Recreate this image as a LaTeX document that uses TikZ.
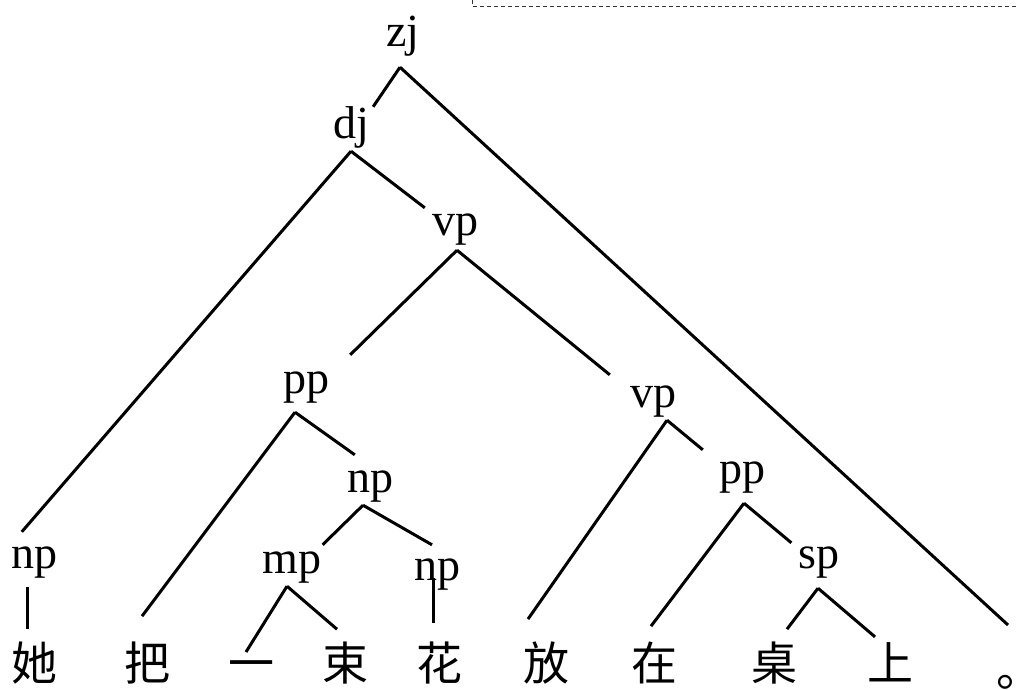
\documentclass[tikz,border=0pt]{standalone}
\usepackage{fontspec}
\setmainfont{Liberation Serif}
\newfontfamily\cjk{Noto Sans CJK SC}
\begin{document}
\begin{tikzpicture}[x=1pt, y=-1pt, line join=round, >=stealth,
		cat/.style={anchor=base, inner sep=3pt, text height=21pt, text depth=10pt, font=\fontsize{46}{50}\selectfont},
		zi/.style={anchor=base, inner sep=3pt, font=\cjk\fontsize{46}{50}\selectfont},
		edge/.style={line width=3pt}]
				\useasboundingbox (0,0) rectangle (1016,689);
				\draw[dashed, dash pattern=on 4pt off 3pt, line width=1pt, black!80] (472,0)--(472,6)--(1016,6);
				
				\node[cat] (zj) at (403,46) {zj};
				\node[cat] (dj) at (351,138) {dj};
				\node[cat] (vpa) at (455,235) {vp};
				\node[cat] (ppa) at (306,393) {pp};
				\node[cat] (vpb) at (653,407) {vp};
				\node[cat] (npa) at (370,492) {np};
				\node[cat] (ppb) at (742,483) {pp};
				\node[cat] (npl) at (34,568) {np};
				\node[cat] (mp) at (292,573) {mp};
				\node[cat] (nps) at (437,580) {np};
				\node[cat] (sp) at (819,568) {sp};
				
				\node[zi] (ta) at (34,680) {她};
				\node[zi] (ba) at (147,680) {把};
				\node[zi] (yi) at (251,680) {一};
				\node[zi] (shu) at (345,680) {束};
				\node[zi] (hua) at (439,680) {花};
				\node[zi] (fang) at (546,680) {放};
				\node[zi] (zai) at (654,680) {在};
				\node[zi] (zhuo) at (774,680) {桌};
				\node[zi] (shang) at (890,680) {上};
				\node[zi, anchor=base west, inner sep=0pt] (ju) at (996,686) {\makebox[10pt][l]{。}};
				
				%Vẽ các nhánh
				\coordinate (zj-j) at ([shift={(-3,8)}]zj.south);
				\coordinate (dj-j) at (dj.south);
				\coordinate (vpa-j) at ([shift={(2,2)}]vpa.south);
				\coordinate (ppa-j) at ([shift={(-11,6)}]ppa.south);
				\coordinate (vpb-j) at ([shift={(14,0)}]vpb.south);
				\coordinate (npa-j) at ([shift={(-7,0)}]npa.south);
				\coordinate (ppb-j) at ([shift={(2,7)}]ppb.south);
				\coordinate (mp-j) at ([shift={(-5,0)}]mp.south);
				\coordinate (sp-j) at ([shift={(-1,7)}]sp.south);
				\coordinate (npl-j) at ([shift={(-7,6)}]npl.south);
				\coordinate (nps-j) at ([shift={(-4,-15)}]nps.south);
				
				\draw[edge] (zj-j) -- ([shift={(1,-7)}]dj.north east);
				\draw[edge] (zj-j) -- ([shift={(12,-61)}]ju.base west);
				\draw[edge] (dj-j) -- ([shift={(14,-12)}]npl.north west);
				\draw[edge] (dj-j) -- ([shift={(-4,-3)}]vpa.north west);
				\draw[edge] (vpa-j) -- ([shift={(18,-14)}]ppa.north east);
				\draw[edge] (vpa-j) -- ([shift={(-17,-8)}]vpb.north west);
				\draw[edge] (ppa-j) -- ([shift={(-5,-22)}]ba.north);
				\draw[edge] (ppa-j) -- ([shift={(11,-13)}]npa.north west);
				\draw[edge] (npa-j) -- ([shift={(-2,-4)}]mp.north east);
				\draw[edge] (npa-j) -- ([shift={(-5,-11)}]nps.north);
				\draw[edge] (mp-j) -- ([shift={(-5,-5)}]yi.north);
				\draw[edge] (mp-j) -- ([shift={(-8,-9)}]shu.north);
				\draw[edge] (nps-j) -- ([shift={(-6,-15)}]hua.north);
				\draw[edge] (npl-j) -- ([shift={(-7,-9)}]ta.north);
				\draw[edge] (vpb-j) -- ([shift={(-18,-19)}]fang.north);
				\draw[edge] (vpb-j) -- ([shift={(-13,-9)}]ppb.north west);
				\draw[edge] (ppb-j) -- ([shift={(-3,-12)}]zai.north);
				\draw[edge] (ppb-j) -- ([shift={(-4,-1)}]sp.north west);
				\draw[edge] (sp-j) -- ([shift={(13,-9)}]zhuo.north);
				\draw[edge] (sp-j) -- ([shift={(-15,-2)}]shang.north);
			\end{tikzpicture}
\end{document}
